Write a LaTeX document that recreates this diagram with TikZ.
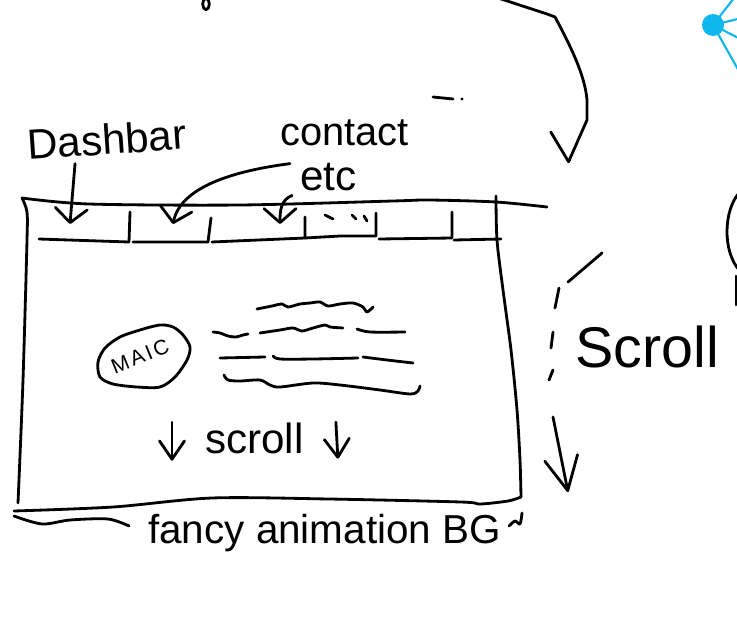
\documentclass[tikz,border=0pt]{standalone}
\usepackage{fontspec}
\setmainfont{Liberation Sans}
\usetikzlibrary{arrows.meta,positioning,calc}
\definecolor{nodecyan}{RGB}{13,183,237}
\tikzset{
hand/.style = {inner sep=0pt, font=\fontsize{36}{40}\selectfont},
tmp/.style  = {coordinate},
pen/.style  = {line width=2.4pt, line cap=round, line join=round},
smallhead/.style = {-{Straight Barb[round,length=5.5mm,width=7.5mm]}},
bighead/.style = {-{Straight Barb[round,length=10mm,width=10mm]}},
halfhead/.style = {-{Straight Barb[round,right,length=6mm,width=17mm]}},
cyanpen/.style = {line width=1.8pt, draw=nodecyan}
}

\begin{document}
\begin{tikzpicture}[x=0.03cm, y=-0.03cm, node distance=1.35cm, >={Straight Barb[round,length=4.2mm,width=9.6mm]}]
\useasboundingbox (0,0) rectangle (737,618);

                % labels
                \node [hand, anchor=base west, rotate=4] (dashbar) at (28,160) {Dashbar};
                \node [hand, anchor=base west, font=\fontsize{34}{38}\selectfont] (contact) at (280,145) {contact};
                \node [hand, below of=contact, xshift=-0.48cm] (etc) {etc};
                \node [hand, rotate=22, font=\fontsize{18}{20}\selectfont\addfontfeature{LetterSpace=12}] (maic) at (140,356) {MAIC};
                \node [hand, anchor=base west] (scroll) at (205,453) {scroll};
                \node [hand, anchor=base west, font=\fontsize{49}{54}\selectfont] (sidescroll) at (575,367) {Scroll};
                \node [hand, anchor=base west, font=\fontsize{34.5}{38}\selectfont] (fancy) at (148,543) {fancy animation BG};

                % arrow ends
                \node [tmp] (nav1) at (70,224) {};
                \node [tmp] (nav2) at (173,224) {};
                \node [tmp] (nav3) at (280,224) {};
                \node [tmp] (sidestart) at (553,417) {};
                \node [tmp] (sidetip) at (568,492) {};
                \node [tmp] (toptip) at (568,163) {};

                % page frame
                \draw [pen] plot [smooth] coordinates {(22,198) (89,204) (240,205) (393,201) (429,200) (496,202) (547,207)};
                \draw [pen] plot [smooth] coordinates {(22,198) (27,212) (27,240) (23,380) (18,503)};
                \draw [pen] plot [smooth] coordinates {(496,196) (497,240) (503,290) (511,350) (517,410) (520,460) (521,497)};
                \draw [pen] plot [smooth] coordinates {(521,497) (508,501) (480,504) (461,502) (329,499) (212,498) (113,507) (14,511)};
                \draw [pen] plot [smooth] coordinates {(14,516) (42,524) (70,520) (108,519) (129,526)};
                \draw [pen] plot [smooth] coordinates {(509,526) (515,521) (520,524) (522,513)};

                % nav bar
                \draw [pen] (39,239) -- (129,242) -- (130,212);
                \draw [pen] (133,242) -- (208,242) -- (211,218);
                \draw [pen] (212,242) -- (305,238) -- (305,217);
                \draw [pen] (305,238) -- (340,236) -- (376,236) -- (376,213);
                \draw [pen] (379,239) -- (452,238) -- (452,212);
                \draw [pen] (454,240) -- (501,239);
                \draw [pen] (325,215) -- (333,219) (352,215) -- (356,219) (364,216) -- (367,221);

                % content
                \draw [pen] plot [smooth cycle] coordinates {(100,377) (113,384) (137,387) (160,387) (175,377) (187,360) (190,347) (183,335) (173,327) (160,325) (140,330) (120,337) (105,348) (98,362)};
                \draw [pen] plot [smooth] coordinates {(257,309) (272,306) (282,304) (288,307) (300,304) (310,303) (320,302) (328,306) (340,304) (353,303) (363,307) (367,312) (373,307)};
                \draw [pen] plot [smooth] coordinates {(213,332) (220,333) (228,336) (236,337) (243,335) (248,334)};
                \draw [pen] plot [smooth] coordinates {(260,333) (280,330) (293,328) (302,331) (313,328) (325,325) (330,327) (343,328)};
                \draw [pen] plot [smooth] coordinates {(357,329) (370,332) (405,332)};
                \draw [pen] (220,358) -- (265,357);
                \draw [pen] plot [smooth] coordinates {(273,356) (280,359) (313,359) (358,358)};
                \draw [pen] plot [smooth] coordinates {(363,357) (387,360) (413,363)};
                \draw [pen] plot [smooth] coordinates {(224,375) (228,380) (240,381) (260,380) (270,385) (280,387) (313,383) (340,385) (380,390) (410,394) (418,391) (420,386)};

                % arrows
                \draw [pen,->] ($(dashbar.south west)+(47,3)$) -- (nav1);
                \draw [pen,->] ($(contact.south west)+(10,18)$) .. controls (225,172) and (180,190) .. (nav2);
                \draw [pen,->] ($(etc.south west)+(-8,4)$) .. controls (281,200) and (280,210) .. (nav3);
                \draw [pen,smallhead] ($(scroll.north west)+(-33,0)$) -- ($(scroll.south west)+(-33,7)$);
                \draw [pen,smallhead] ($(scroll.north east)+(32,0)$) -- ($(scroll.south east)+(34,5)$);
                \draw [pen] (602,253) -- (568,282) (559,288) -- (555,308) (553,332) -- (551,348) (553,370) -- (549,380);
                \draw [pen,bighead] (sidestart) -- (sidetip);
                \draw [pen,halfhead] (495,-3) -- (547,14) -- (555,17) .. controls (570,45) and (585,75) .. (587,100) -- (587,120) -- (toptip);

                % bits cut by the edge
                \draw [pen] (206,4) ellipse [x radius=0.1cm, y radius=0.17cm];
                \draw [pen] (433,97) -- (453,99);
                \fill (462,99) circle [radius=0.05cm];
                \draw [pen] (739,193) .. controls (724,210) and (722,250) .. (739,270);
                \draw [pen] (736,276) -- (736,305);
                \draw [cyanpen] (713,25) -- (745,-16);
                \draw [cyanpen] (713,25) -- (750,16);
                \draw [cyanpen] (713,25) -- (750,44);
                \draw [cyanpen] (713,25) -- (740,73);
                \fill [nodecyan] (713,25) circle [radius=0.33cm];
\end{tikzpicture}
\end{document}
